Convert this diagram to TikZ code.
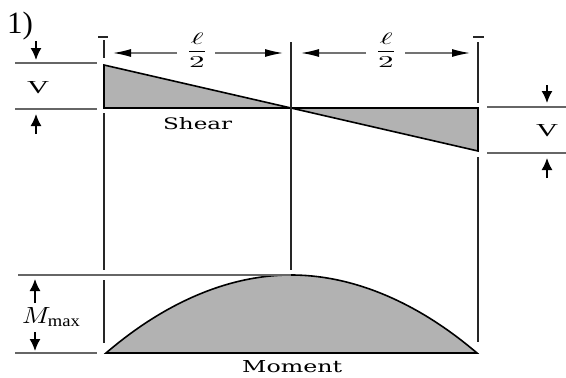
\documentclass[tikz,border=0pt]{standalone}
\usepackage{fontspec}
\setmainfont{Liberation Serif}
\newfontfamily\labfont{DejaVu Serif}
\usetikzlibrary{arrows.meta}
\begin{document}
\begin{tikzpicture}[x=1pt,y=-1pt,
  refline/.style={line width=1.3pt, draw=black!60},
  vline/.style={line width=1.6pt, draw=black!85},
  dimline/.style={line width=1.3pt, draw=black!55, -{Latex[length=18pt,width=8pt,black]}},
  varrow/.style={line width=1.5pt, draw=black, -{Latex[length=12pt,width=11pt]}},
  diag/.style={fill=black!30, draw=black, line width=1.6pt, line join=miter},
  lab/.style={inner sep=0pt, anchor=base west}]
\path[use as bounding box] (0,0) rectangle (566,378);

% label 1)
\node[lab, font=\fontsize{31}{31}\selectfont] (num) at (7,33) {1)};

% key points
\coordinate (A) at (104,65);
\coordinate (B) at (104,108);
\coordinate (O) at (291,108);
\coordinate (C) at (478,108);
\coordinate (D) at (478,151);
\coordinate (P) at (106,353);
\coordinate (Q) at (291,275);
\coordinate (R) at (477,353);

% shear diagram
\draw[diag] (A) -- (B) -- (O) -- cycle;
\draw[diag] (O) -- (C) -- (D) -- cycle;
\draw[line width=2.4pt] (A) -- (B);
\draw[line width=2.4pt] (C) -- (D);
\node[lab] (shear) at (163,129) {\resizebox{69pt}{12pt}{\labfont Shear}};

% moment diagram
\draw[diag] (P) parabola bend (Q) (R) -- cycle;
\node[lab] (moment) at (242,372) {\resizebox{100pt}{12pt}{\labfont Moment}};

% vertical extension lines
\coordinate (L0) at (104,40); \coordinate (L1) at (104,58);
\coordinate (L2) at (104,113); \coordinate (L3) at (104,270);
\coordinate (L4) at (104,280); \coordinate (L5) at (104,343);
\draw[vline] (L0) -- (L1);
\draw[vline] (L2) -- (L3);
\draw[vline] (L4) -- (L5);
\coordinate (M0) at (291,42); \coordinate (M1) at (291,270);
\draw[vline] (M0) -- (M1);
\coordinate (R0) at (478,42); \coordinate (R1) at (478,103);
\coordinate (R2) at (478,157); \coordinate (R3) at (478,342);
\draw[vline] (R0) -- (R1);
\draw[vline] (R2) -- (R3);
% ticks
\coordinate (tl1) at (98,37); \coordinate (tl2) at (108,37);
\coordinate (tr1) at (473,37); \coordinate (tr2) at (484,37);
\draw[vline] (tl1) -- (tl2);
\draw[vline] (tr1) -- (tr2);

% horizontal reference lines
\coordinate (h1a) at (15,63); \coordinate (h1b) at (97,63);
\coordinate (h2a) at (15,109); \coordinate (h2b) at (97,109);
\coordinate (h3a) at (487,107); \coordinate (h3b) at (566,107);
\coordinate (h4a) at (487,153); \coordinate (h4b) at (566,153);
\coordinate (h5a) at (18,275);
\coordinate (h6a) at (15,353); \coordinate (h6b) at (97,353);
\draw[refline] (h1a) -- (h1b);
\draw[refline] (h2a) -- (h2b);
\draw[refline] (h3a) -- (h3b);
\draw[refline] (h4a) -- (h4b);
\draw[refline] (h5a) -- (Q);
\draw[refline] (h6a) -- (h6b);

% span dimensions
\node[inner sep=0pt] (half1) at (197,50) {\resizebox*{23pt}{34pt}{$\displaystyle\frac{\ell}{2}$}};
\node[inner sep=0pt] (half2) at (386,50) {\resizebox*{23pt}{34pt}{$\displaystyle\frac{\ell}{2}$}};
\coordinate (d1a) at (177,53); \coordinate (d1b) at (113,53);
\coordinate (d2a) at (215,53); \coordinate (d2b) at (283,53);
\coordinate (d3a) at (366,53); \coordinate (d3b) at (301,53);
\coordinate (d4a) at (405,53); \coordinate (d4b) at (470,53);
\draw[dimline] (d1a) -- (d1b);
\draw[dimline] (d2a) -- (d2b);
\draw[dimline] (d3a) -- (d3b);
\draw[dimline] (d4a) -- (d4b);

% V labels and arrows
\node[lab] (vleft) at (27,93) {\resizebox{22pt}{12pt}{V}};
\node[lab] (vright) at (536,136) {\resizebox{22pt}{12pt}{V}};
\coordinate (a1) at (36,41); \coordinate (a2) at (36,60);
\coordinate (a3) at (36,134); \coordinate (a4) at (36,114);
\coordinate (a5) at (547,85); \coordinate (a6) at (547,103);
\coordinate (a7) at (547,178); \coordinate (a8) at (547,158);
\draw[varrow] (a1) -- (a2);
\draw[varrow] (a3) -- (a4);
\draw[varrow] (a5) -- (a6);
\draw[varrow] (a7) -- (a8);

% M max
\node[lab] (mmax) at (22,323) {\resizebox{59pt}{16pt}{$M_{\mathrm{max}}$}};
\coordinate (m1) at (35,303); \coordinate (m2) at (35,279);
\coordinate (m3) at (35,332); \coordinate (m4) at (35,351);
\draw[varrow] (m1) -- (m2);
\draw[varrow] (m3) -- (m4);
\end{tikzpicture}
\end{document}
